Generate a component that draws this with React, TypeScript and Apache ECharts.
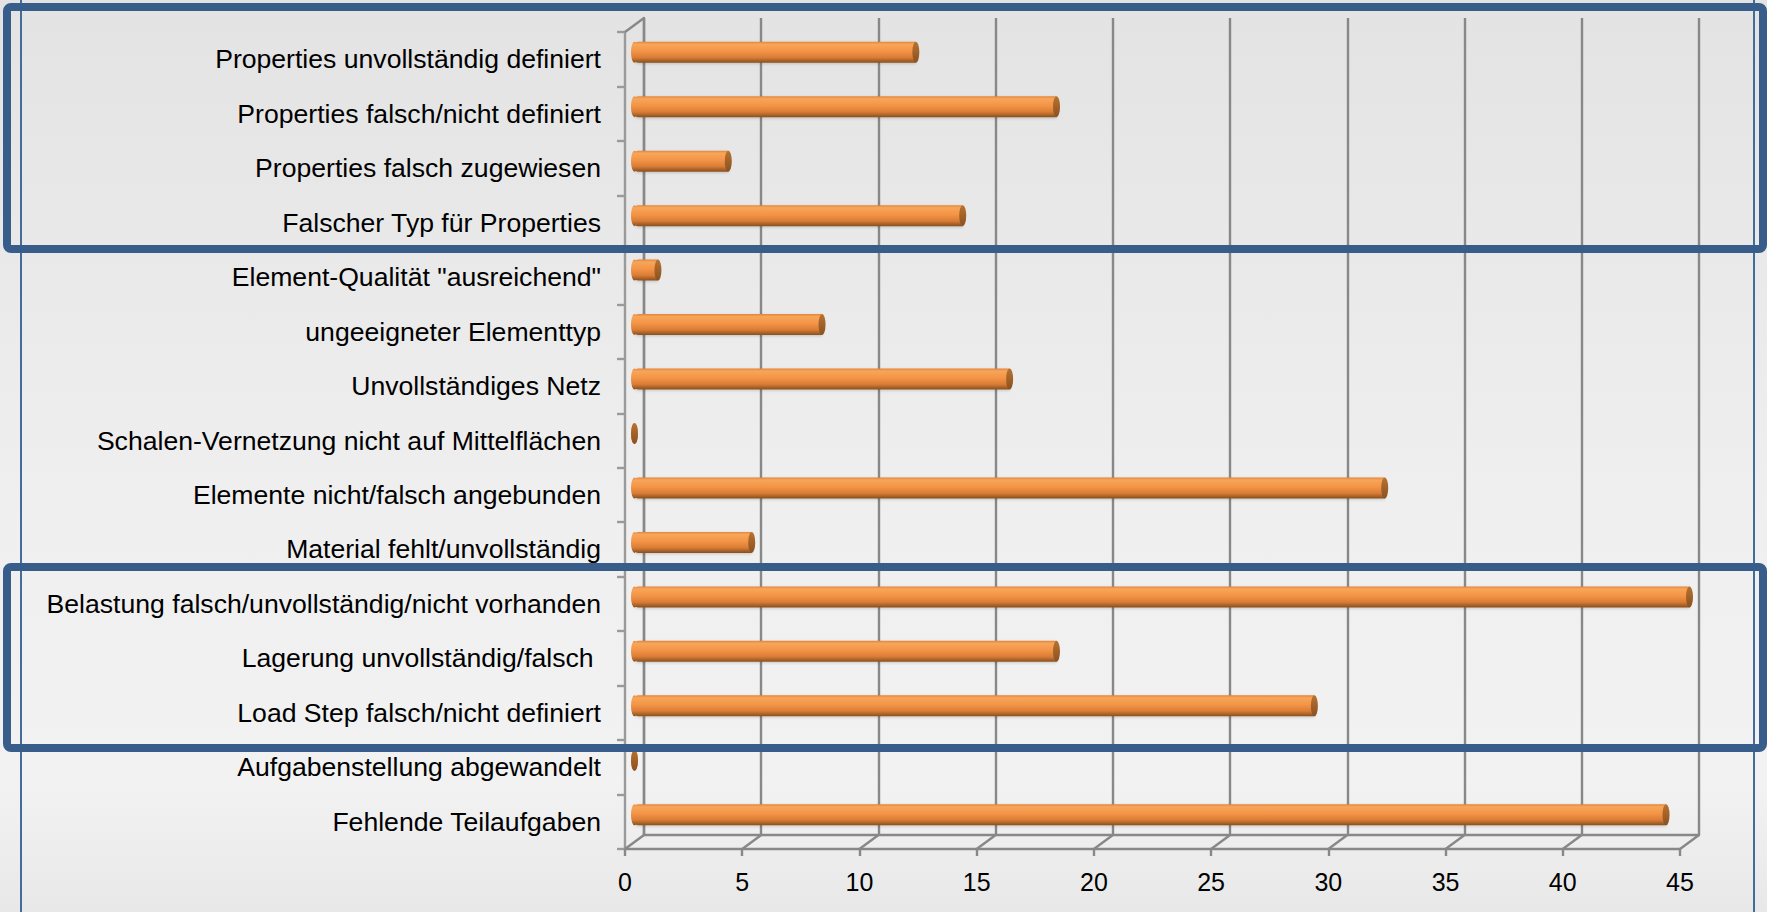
import React, { useEffect, useRef } from "react";
import * as echarts from "echarts";

const CATEGORIES = [
  "Properties unvollständig definiert",
  "Properties falsch/nicht definiert",
  "Properties falsch zugewiesen",
  "Falscher Typ für Properties",
  'Element-Qualität "ausreichend"',
  "ungeeigneter Elementtyp",
  "Unvollständiges Netz",
  "Schalen-Vernetzung nicht auf Mittelflächen",
  "Elemente nicht/falsch angebunden",
  "Material fehlt/unvollständig",
  "Belastung falsch/unvollständig/nicht vorhanden",
  "Lagerung unvollständig/falsch ",
  "Load Step falsch/nicht definiert",
  "Aufgabenstellung abgewandelt",
  "Fehlende Teilaufgaben",
];

const VALUES = [12, 18, 4, 14, 1, 8, 16, 0, 32, 5, 45, 18, 29, 0, 44];

const X_TICKS = [0, 5, 10, 15, 20, 25, 30, 35, 40, 45];
const X_MIN = 0;
const X_MAX = 45;
const X_STEP = 5;

const FONT = "'Liberation Sans', Arial, sans-serif";
const GRID_COLOR = "#888888";
const DEPTH_X = 19;
const DEPTH_Y = 14;
const FRONT = { left: 625, top: 32, width: 1055, height: 817 };
const FRAME_BLUE = "#385d8b";

const ELLIPSE = "path://M0,10 A5,10 0 1,1 10,10 A5,10 0 1,1 0,10 Z";

export default function App() {
  const ref = useRef<HTMLDivElement>(null);

  useEffect(() => {
    if (!ref.current) return;
    const chart = echarts.init(ref.current, undefined, { renderer: "svg" });

    const barGradient = new echarts.graphic.LinearGradient(0, 0, 0, 1, [
      { offset: 0, color: "#e3853a" },
      { offset: 0.12, color: "#f7a65a" },
      { offset: 0.45, color: "#f39446" },
      { offset: 0.75, color: "#da7c35" },
      { offset: 1, color: "#86501f" },
    ]);
    const capGradient = new echarts.graphic.LinearGradient(0, 0, 0, 1, [
      { offset: 0, color: "#b8722f" },
      { offset: 1, color: "#8a5122" },
    ]);

    const grids = [
      { left: FRONT.left, top: FRONT.top, width: FRONT.width, height: FRONT.height },
      { left: FRONT.left + DEPTH_X, top: FRONT.top - DEPTH_Y, width: FRONT.width, height: FRONT.height },
      { left: FRONT.left + DEPTH_X / 2, top: FRONT.top - DEPTH_Y / 2, width: FRONT.width, height: FRONT.height },
    ];

    const valueAxisBase = { type: "value", min: X_MIN, max: X_MAX, interval: X_STEP };
    const lineW = 2.4;

    chart.setOption({
      animation: false,
      backgroundColor: {
        type: "linear",
        x: 0,
        y: 0,
        x2: 0,
        y2: 1,
        colorStops: [
          { offset: 0, color: "#e3e3e3" },
          { offset: 0.55, color: "#efefef" },
          { offset: 0.86, color: "#f2f2f2" },
          { offset: 1, color: "#e8e8e8" },
        ],
      },
      grid: grids,
      xAxis: [
        {
          ...valueAxisBase,
          gridIndex: 0,
          axisLine: { show: true, lineStyle: { color: GRID_COLOR, width: lineW } },
          axisTick: { show: true, length: 7, lineStyle: { color: GRID_COLOR, width: lineW } },
          axisLabel: { color: "#000", fontSize: 25, fontFamily: FONT, margin: 20 },
          splitLine: { show: false },
        },
        {
          ...valueAxisBase,
          gridIndex: 1,
          axisLine: { show: true, lineStyle: { color: GRID_COLOR, width: lineW } },
          axisTick: { show: false },
          axisLabel: { show: false },
          splitLine: { show: true, lineStyle: { color: GRID_COLOR, width: lineW } },
        },
        {
          ...valueAxisBase,
          gridIndex: 2,
          axisLine: { show: false },
          axisTick: { show: false },
          axisLabel: { show: false },
          splitLine: { show: false },
        },
      ],
      yAxis: [
        {
          type: "category",
          gridIndex: 0,
          data: CATEGORIES,
          inverse: true,
          axisLine: { show: true, lineStyle: { color: "#9a9a9a", width: lineW } },
          axisTick: { show: true, length: 8, lineStyle: { color: "#9a9a9a", width: lineW } },
          axisLabel: { color: "#000", fontSize: 26.6, fontFamily: FONT, margin: 24 },
        },
        {
          type: "category",
          gridIndex: 1,
          data: CATEGORIES,
          inverse: true,
          axisLine: { show: true, lineStyle: { color: GRID_COLOR, width: lineW } },
          axisTick: { show: false },
          axisLabel: { show: false },
        },
        {
          type: "category",
          gridIndex: 2,
          data: CATEGORIES,
          inverse: true,
          axisLine: { show: false },
          axisTick: { show: false },
          axisLabel: { show: false },
        },
      ],
      series: [
        {
          type: "custom",
          xAxisIndex: 0,
          yAxisIndex: 0,
          data: X_TICKS.map((t) => [t, 0]),
          encode: { x: 0, y: 1 },
          silent: true,
          z: 1,
          renderItem: (params: any, api: any) => {
            const cs = params.coordSys;
            const x = api.coord([api.value(0), 0])[0];
            const yb = cs.y + cs.height;
            const style = { stroke: GRID_COLOR, lineWidth: lineW };
            const children: any[] = [
              { type: "line", shape: { x1: x, y1: yb, x2: x + DEPTH_X, y2: yb - DEPTH_Y }, style },
            ];
            if (params.dataIndex === 0) {
              children.push({
                type: "line",
                shape: { x1: cs.x, y1: cs.y, x2: cs.x + DEPTH_X, y2: cs.y - DEPTH_Y },
                style,
              });
            }
            return { type: "group", children };
          },
        },
        {
          type: "bar",
          xAxisIndex: 2,
          yAxisIndex: 2,
          data: VALUES,
          barWidth: 21,
          z: 3,
          itemStyle: {
            color: barGradient,
            borderRadius: [4, 0, 0, 4],
            shadowColor: "rgba(0,0,0,0.18)",
            shadowBlur: 3,
            shadowOffsetY: 1,
          },
        },
        {
          type: "scatter",
          xAxisIndex: 2,
          yAxisIndex: 2,
          data: VALUES.map((v, i) => [X_MIN, i]),
          symbol: ELLIPSE,
          symbolSize: [7, 21],
          z: 3,
          itemStyle: { color: barGradient, opacity: 1 },
        },
        {
          type: "scatter",
          xAxisIndex: 2,
          yAxisIndex: 2,
          data: VALUES.map((v, i) => [v, i]),
          symbol: ELLIPSE,
          symbolSize: [7, 21],
          z: 4,
          itemStyle: { color: capGradient, opacity: 1 },
        },
      ],
      graphic: [
        {
          type: "line",
          z: 100,
          shape: { x1: 21, y1: 0, x2: 21, y2: 912 },
          style: { stroke: "#456b98", lineWidth: 2 },
        },
        {
          type: "line",
          z: 100,
          shape: { x1: 1754, y1: 0, x2: 1754, y2: 912 },
          style: { stroke: "#456b98", lineWidth: 2 },
        },
        {
          type: "rect",
          z: 101,
          shape: { x: 7, y: 7, width: 1756, height: 242, r: 4 },
          style: { fill: "none", stroke: FRAME_BLUE, lineWidth: 8 },
        },
        {
          type: "rect",
          z: 101,
          shape: { x: 7, y: 567, width: 1756, height: 181, r: 4 },
          style: { fill: "none", stroke: FRAME_BLUE, lineWidth: 8 },
        },
      ],
    });

    return () => chart.dispose();
  }, []);

  return (
    <div
      ref={ref}
      style={{ position: "absolute", left: 0, top: 0, width: 1767, height: 912 }}
    />
  );
}
